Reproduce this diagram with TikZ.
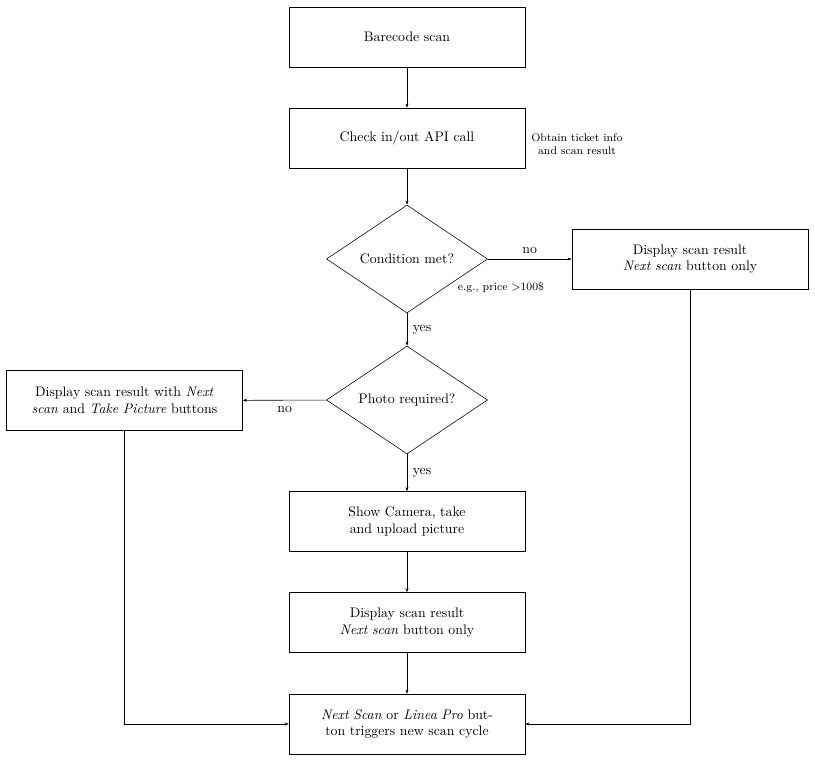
\documentclass[tikz,border=0pt]{standalone}
\usetikzlibrary{shapes.geometric,arrows.meta}
\begin{document}
\begin{tikzpicture}[x=0.7236pt,y=-0.7236pt,
  box/.style={draw,rectangle,minimum width=170.8pt,minimum height=43.4pt,text width=4.9cm,align=center,inner sep=2pt},
  dia/.style={draw,diamond,aspect=1.5,inner sep=0pt,minimum width=116.5pt,minimum height=78.1pt,align=center},
  note/.style={font=\footnotesize,align=center,inner sep=0pt},
  lbl/.style={inner sep=0pt},
  arr/.style={-{Stealth[length=3pt,width=2.2pt]}}]
\useasboundingbox (0,0) rectangle (815,760);
\node[box] (scan) at (407,37) {Barecode scan};
\node[box] (api) at (407,138) {Check in/out API call};
\node[note] (obtain) at (577,144) {Obtain ticket info\\and scan result};
\node[dia] (cond) at (407,259) {Condition met?};
\node[box] (right) at (690,259) {Display scan result\\\textit{Next scan} button only};
\node[note] (eg) at (501,287) {e.g., price $>$100\$};
\node[dia] (photo) at (407,400) {Photo required?};
\node[box] (left) at (124.5,400.5) {Display scan result with \textit{Next}\\\textit{scan} and \textit{Take Picture} buttons};
\node[box] (cam) at (407,521.5) {Show Camera, take\\and upload picture};
\node[box] (disp) at (407,622.5) {Display scan result\\\textit{Next scan} button only};
\node[box] (final) at (407,724) {\textit{Next Scan} or \textit{Linea Pro} but-\\ton triggers new scan cycle};
\coordinate (lc) at (124.5,724);
\coordinate (rc) at (690,724);
\draw[arr] (scan) -- (api);
\draw[arr] (api) -- (cond);
\draw[arr] (cond) -- node[lbl,above=4pt] {no} (right);
\draw[arr] (cond) -- node[lbl,right=4pt] {yes} (photo);
\draw[arr] (photo) -- node[lbl,below=4pt] {no} (left);
\draw[arr] (photo) -- node[lbl,right=4pt] {yes} (cam);
\draw[arr] (cam) -- (disp);
\draw[arr] (disp) -- (final);
\draw[arr] (left) -- (lc) -- (final);
\draw[arr] (right) -- (rc) -- (final);
\end{tikzpicture}
\end{document}
